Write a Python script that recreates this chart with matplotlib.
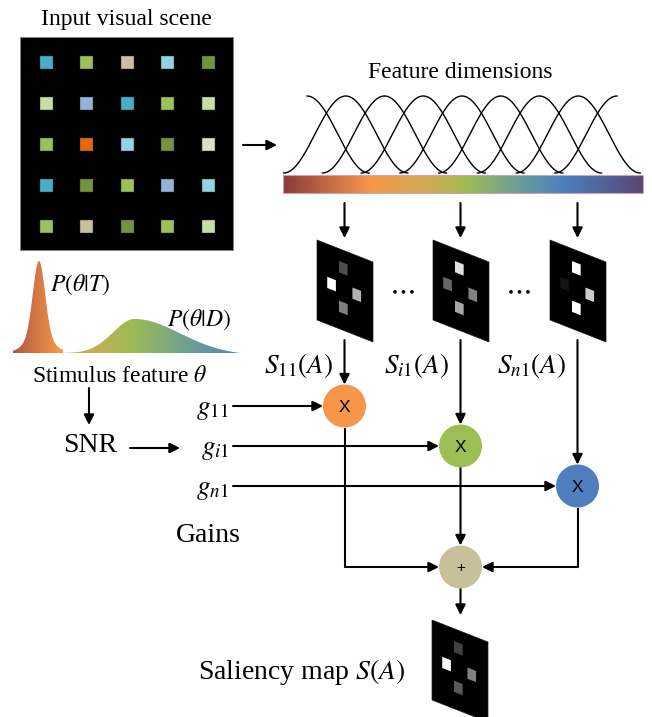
import numpy as np
import matplotlib
matplotlib.use("Agg")
import matplotlib.pyplot as plt
from matplotlib.patches import Rectangle, Polygon, Circle
from matplotlib.colors import LinearSegmentedColormap

plt.rcParams['font.family'] = ['Liberation Serif', 'DejaVu Serif']
plt.rcParams['mathtext.fontset'] = 'stix'

# ---------------- data ----------------
scene_colors = [
    ['#45aec8', '#9dc15a', '#c8c09c', '#94d3e2', '#76923c'],
    ['#c8dca6', '#95b3d9', '#45aec8', '#9dc15a', '#c8dca6'],
    ['#9dc15a', '#e5690c', '#94d3e2', '#76923c', '#e0dccb'],
    ['#45aec8', '#76923c', '#9dc15a', '#95b3d9', '#94d3e2'],
    ['#9dc15a', '#c8c09c', '#76923c', '#9dc15a', '#c8dca6'],
]
n_tuning = 9
spectrum_stops = [0.0, 0.24, 0.40, 0.52, 0.66, 0.78, 1.0]
spectrum_colors = ['#8c3a3c', '#f7964a', '#d2aa55', '#9bbb55', '#6a9c9a', '#4a80c0', '#5b4677']
# feature-map square intensities: top, left, right, bottom
map_intensity = {
    'S11': [0.30, 1.00, 0.70, 0.50],
    'Si1': [0.88, 0.40, 0.50, 0.65],
    'Sn1': [1.00, 0.08, 0.80, 1.00],
    'S':   [0.25, 1.00, 0.50, 0.35],
}
map_labels = [r'$S_{11}(A)$', r'$S_{i1}(A)$', r'$S_{n1}(A)$']
gain_labels = [r'$g_{11}$', r'$g_{i1}$', r'$g_{n1}$']
node_colors = ['#f5964a', '#9bbf55', '#4f7fbf']
sum_color = '#c8c09a'
# density shapes (peak position, height, widths)
T_peak, T_height, T_sigma = 39, 92, 6.0
D_peak, D_height, D_sig_left, D_sig_right = 135, 35, 22, 45

# ---------------- figure ----------------
fig = plt.figure(figsize=(6.52, 7.17), dpi=100)
ax = fig.add_axes([0, 0, 1, 1])
ax.set_xlim(0, 652)
ax.set_ylim(717, 0)
ax.axis('off')
ax.set_aspect('equal')

cmap = LinearSegmentedColormap.from_list('spec', list(zip(spectrum_stops, spectrum_colors)))

LW = 1.5


def arrow(x0, y0, x1, y1):
    ax.annotate('', xy=(x1, y1), xytext=(x0, y0),
                arrowprops=dict(arrowstyle='-|>,head_length=0.6,head_width=0.3',
                                lw=LW, color='k', mutation_scale=10,
                                shrinkA=0, shrinkB=0))


def line(xs, ys):
    ax.plot(xs, ys, color='k', lw=LW, solid_capstyle='butt')


# ---- input scene ----
ax.text(126, 20, 'Input visual scene', ha='center', va='center', fontsize=17)
ax.add_patch(Rectangle((20, 37), 213, 213, facecolor='black', edgecolor='#888888', lw=0.5))
sq = 13
for r, row in enumerate(scene_colors):
    for c, col in enumerate(row):
        cx = 46 + c * 40.5
        cy = 62 + r * 41
        ax.add_patch(Rectangle((cx - sq / 2, cy - sq / 2), sq, sq, facecolor=col,
                               edgecolor='#333333', lw=0.3))

arrow(243, 145, 277, 145)

# ---- feature dimensions ----
ax.text(460, 72, 'Feature dimensions', ha='center', va='center', fontsize=17)
bar_x0, bar_x1, bar_top, bar_bot = 283, 643, 175, 193
grad = np.linspace(0, 1, 512).reshape(1, -1)
ax.imshow(grad, cmap=cmap, extent=[bar_x0, bar_x1, bar_bot, bar_top], aspect='auto', zorder=2)
ax.add_patch(Rectangle((bar_x0, bar_top), bar_x1 - bar_x0, bar_bot - bar_top,
                       facecolor='none', edgecolor='#c8a8b0', lw=0.8, zorder=3))

centers = np.linspace(307, 617, n_tuning)
half_w = 62
base_y, amp = 173, 77
for k, c0 in enumerate(centers):
    lo = c0 if k == 0 else c0 - half_w
    hi = c0 if k == n_tuning - 1 else c0 + half_w
    xs = np.linspace(lo, hi, 200)
    ys = base_y - amp * 0.5 * (1 + np.cos(np.pi * (xs - c0) / half_w))
    ax.plot(xs, ys, color='k', lw=1.0)

# ---- feature maps ----
MW, MH, SK = 56, 80, 22
sq_pos = [(0.47, 0.225), (0.26, 0.48), (0.71, 0.49), (0.47, 0.72)]
du, dv = 0.155, 0.14


def fmap(x0, y0, vals):
    def P(u, v):
        return (x0 + u * MW, y0 + v * MH + u * SK)
    ax.add_patch(Polygon([P(0, 0), P(1, 0), P(1, 1), P(0, 1)], closed=True,
                         facecolor='black', edgecolor='#222222', lw=0.5, zorder=4))
    for (u, v), g in zip(sq_pos, vals):
        pts = [P(u - du / 2, v - dv / 2), P(u + du / 2, v - dv / 2),
               P(u + du / 2, v + dv / 2), P(u - du / 2, v + dv / 2)]
        ax.add_patch(Polygon(pts, closed=True, facecolor=(g, g, g), edgecolor='none', zorder=5))


map_x = [317, 433, 550]
col_x = [x + MW / 2 - 0.5 for x in map_x]
map_top = 240
for x0, key in zip(map_x, ['S11', 'Si1', 'Sn1']):
    fmap(x0, map_top, map_intensity[key])
for cx in col_x:
    arrow(cx, 203, cx, 238)
for dx in (402, 518):
    ax.text(dx, 290, r'$\cdots$', ha='center', va='center', fontsize=21)

for cx, lab in zip([299, 416, 532], map_labels):
    ax.text(cx, 373, lab, ha='center', va='baseline', fontsize=19.5)

# ---- multiplication nodes ----
R = 21.5
node_y = [406, 446, 486]
for cx, cy, colr in zip(col_x, node_y, node_colors):
    arrow(cx, 340, cx, cy - R)
    ax.add_patch(Circle((cx, cy), R, facecolor=colr, edgecolor='none', zorder=5))
    ax.text(cx, cy + 1, 'X', ha='center', va='center', fontsize=12.5,
            family='Liberation Sans', zorder=6)

for cx, cy, lab in zip(col_x, node_y, gain_labels):
    ax.text(229, cy + 8, lab, ha='right', va='baseline', fontsize=19.5)
    arrow(233, cy, cx - R, cy)

# ---- summation ----
sum_x, sum_y = col_x[1], 567
line([col_x[0], col_x[0], sum_x - R - 6], [node_y[0] + R, sum_y, sum_y])
arrow(sum_x - R - 8, sum_y, sum_x - R, sum_y)
arrow(col_x[1], node_y[1] + R, col_x[1], sum_y - R)
line([col_x[2], col_x[2], sum_x + R + 6], [node_y[2] + R, sum_y, sum_y])
arrow(sum_x + R + 8, sum_y, sum_x + R, sum_y)
ax.add_patch(Circle((sum_x, sum_y), R, facecolor=sum_color, edgecolor='none', zorder=5))
ax.text(sum_x, sum_y + 1, '+', ha='center', va='center', fontsize=11,
        family='Liberation Sans', zorder=6)
arrow(sum_x, sum_y + R, sum_x, 615)

fmap(432, 620, map_intensity['S'])
ax.text(302, 672, r'Saliency map $S(A)$', ha='center', va='center', fontsize=20)

# ---- densities ----
base = 353
xT = np.linspace(13, 63, 300)
yT = T_height * (0.82 * np.exp(-(xT - T_peak) ** 2 / (2 * T_sigma ** 2))
                 + 0.18 * np.exp(-(xT - T_peak) ** 2 / (2 * 13.0 ** 2)))
xD = np.linspace(63, 240, 400)
sig = np.where(xD < D_peak, D_sig_left, D_sig_right)
yD = D_height * np.exp(-(xD - D_peak) ** 2 / (2 * sig ** 2))
yD = yD - yD[-1] * (xD - xD[0]) / (xD[-1] - xD[0])


def grad_fill(xs, ys, f0, f1):
    verts = list(zip(xs, base - ys)) + [(xs[-1], base), (xs[0], base)]
    poly = Polygon(verts, closed=True, facecolor='none', edgecolor='none')
    ax.add_patch(poly)
    g = np.linspace(f0, f1, 256).reshape(1, -1)
    im = ax.imshow(g, cmap=cmap, vmin=0, vmax=1, aspect='auto',
                   extent=[xs[0], xs[-1], base, base - ys.max() - 1], zorder=2)
    im.set_clip_path(poly)


grad_fill(xT, yT, 0.08, 0.25)
grad_fill(xD, yD, 0.36, 0.76)
ax.set_xlim(0, 652)
ax.set_ylim(717, 0)

ax.text(50, 285, r'$P(\theta|T)$', ha='left', va='center', fontsize=17)
ax.text(167, 320, r'$P(\theta|D)$', ha='left', va='center', fontsize=17)
ax.text(120, 377, r'Stimulus feature $\theta$', ha='center', va='center', fontsize=17)

arrow(89, 388, 89, 425)
ax.text(90, 446, 'SNR', ha='center', va='center', fontsize=20)
arrow(130, 448, 180, 448)
ax.text(208, 535, 'Gains', ha='center', va='center', fontsize=20)

fig.savefig('out.png', dpi=100)
